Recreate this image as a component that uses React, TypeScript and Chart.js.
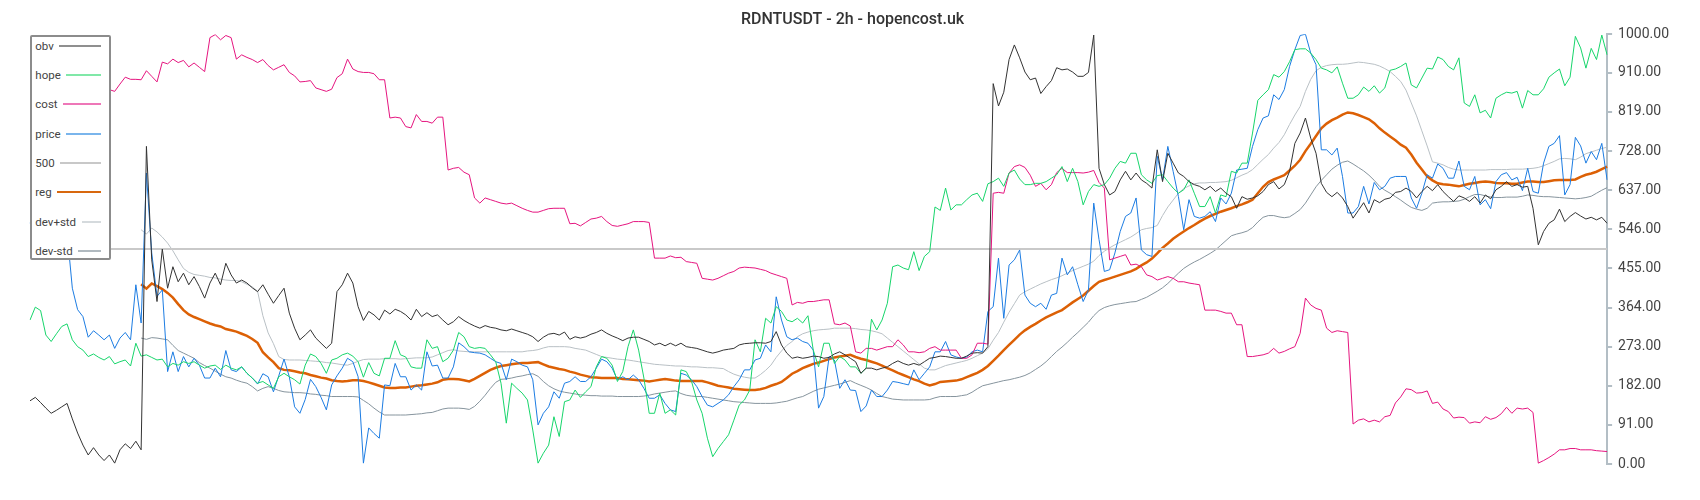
import React, { useEffect, useRef } from 'react';
import { Chart, registerables } from 'chart.js';

Chart.register(...registerables);

const TITLE = 'RDNTUSDT - 2h - hopencost.uk';
const POINT_COUNT = 299;
const categories = Array.from({ length: POINT_COUNT }, (_, i) => `t${i + 1}`);
const yTicks = [0, 91, 182, 273, 364, 455, 546, 637, 728, 819, 910, 1000];
const LEVEL = 500;

const obv = [
  147, 155, 143, 130, 118, 125, 133, 141, 105, 72,
  44, 21, 38, 21, 8, 21, 2, 33, 47, 36,
  53, 33, 739, 475, 378, 500, 409, 459, 424, 444,
  417, 436, 413, 386, 421, 444, 417, 467, 440, 421,
  428, 421, 410, 401, 417, 395, 374, 392, 409, 351,
  316, 289, 300, 312, 293, 281, 269, 281, 401, 417,
  444, 421, 366, 334, 355, 347, 335, 358, 349, 360,
  355, 347, 335, 360, 343, 352, 343, 347, 335, 324,
  331, 343, 334, 327, 321, 316, 322, 318, 316, 312,
  310, 314, 310, 306, 302, 296, 285, 295, 302, 304,
  300, 307, 290, 296, 293, 296, 302, 306, 312, 304,
  298, 293, 287, 293, 295, 295, 290, 285, 277, 281,
  275, 281, 275, 281, 273, 271, 269, 265, 261, 258,
  261, 265, 267, 269, 277, 280, 281, 282, 282, 281,
  285, 308, 277, 258, 246, 249, 246, 248, 251, 250,
  246, 248, 256, 261, 254, 246, 238, 211, 223, 223,
  219, 223, 226, 234, 240, 234, 230, 234, 230, 238,
  246, 248, 251, 250, 248, 246, 246, 251, 258, 259,
  258, 273, 885, 833, 865, 941, 975, 945, 912, 894,
  898, 862, 878, 892, 922, 917, 919, 912, 902, 902,
  911, 998, 688, 650, 626, 634, 661, 681, 661, 677,
  661, 653, 642, 731, 657, 723, 700, 677, 669, 657,
  650, 646, 638, 646, 634, 642, 630, 622, 595, 622,
  616, 619, 624, 634, 650, 657, 640, 650, 681, 746,
  770, 805, 758, 723, 653, 632, 622, 632, 619, 599,
  572, 590, 608, 584, 615, 608, 616, 619, 632, 634,
  642, 634, 619, 634, 646, 636, 650, 634, 622, 611,
  624, 619, 611, 622, 607, 626, 617, 638, 646, 657,
  646, 650, 644, 646, 595, 510, 541, 560, 568, 593,
  564, 576, 585, 577, 570, 574, 568, 574, 560,
];

const hope = [
  335, 365, 357, 300, 285, 303, 320, 326, 289, 273,
  265, 250, 256, 248, 242, 250, 233, 238, 242, 228,
  281, 251, 254, 248, 242, 244, 226, 234, 230, 238,
  234, 238, 230, 223, 228, 230, 220, 230, 223, 219,
  226, 211, 200, 188, 192, 184, 176, 203, 211, 203,
  196, 186, 230, 256, 250, 234, 211, 242, 246, 254,
  258, 251, 238, 202, 236, 211, 205, 246, 246, 287,
  254, 249, 226, 223, 223, 289, 269, 273, 238, 246,
  265, 306, 296, 273, 269, 271, 269, 254, 238, 188,
  95, 188, 176, 165, 149, 79, 2, 25, 44, 110,
  64, 145, 149, 172, 155, 168, 180, 226, 250, 246,
  230, 192, 215, 273, 312, 265, 200, 118, 118, 165,
  118, 126, 114, 219, 215, 192, 149, 118, 60, 17,
  36, 52, 68, 102, 137, 149, 172, 289, 261, 339,
  328, 366, 355, 335, 331, 339, 328, 345, 265, 226,
  281, 281, 234, 250, 242, 226, 226, 211, 223, 337,
  312, 335, 374, 459, 463, 456, 452, 494, 450, 483,
  494, 598, 590, 642, 591, 603, 603, 615, 626, 630,
  611, 652, 657, 665, 646, 677, 684, 663, 650, 650,
  653, 653, 657, 665, 673, 692, 657, 688, 657, 603,
  634, 650, 646, 650, 665, 688, 704, 700, 723, 723,
  673, 661, 653, 671, 673, 657, 642, 630, 638, 661,
  630, 599, 599, 622, 584, 626, 622, 681, 677, 700,
  700, 770, 846, 859, 871, 906, 900, 913, 936, 964,
  966, 966, 956, 941, 921, 917, 910, 924, 886, 851,
  851, 859, 877, 867, 880, 863, 875, 916, 919, 925,
  933, 882, 875, 898, 921, 919, 947, 941, 925, 917,
  945, 840, 832, 859, 817, 823, 805, 851, 859, 865,
  863, 867, 828, 869, 859, 859, 873, 900, 910, 919,
  880, 900, 995, 968, 921, 967, 941, 998, 952,
];

const cost = [
  880, 870, 890, 900, 885, 870, 880, 895, 890, 875,
  880, 870, 865, 875, 870, 871, 867, 884, 900, 895,
  895, 894, 915, 902, 889, 935, 931, 942, 934, 939,
  924, 933, 923, 913, 992, 999, 987, 997, 992, 942,
  952, 946, 941, 934, 941, 927, 917, 923, 929, 911,
  903, 889, 890, 892, 875, 871, 867, 872, 899, 908,
  942, 919, 913, 911, 911, 908, 894, 894, 805, 807,
  805, 785, 782, 813, 797, 797, 793, 807, 807, 684,
  688, 690, 679, 673, 619, 607, 619, 615, 611, 607,
  605, 607, 601, 595, 590, 586, 586, 590, 594, 595,
  595, 595, 559, 560, 554, 562, 570, 572, 576, 564,
  555, 553, 556, 559, 564, 564, 564, 562, 479, 479,
  479, 484, 480, 481, 471, 469, 467, 432, 430, 428,
  432, 438, 444, 448, 456, 458, 457, 456, 453, 450,
  444, 440, 436, 432, 370, 376, 374, 378, 378, 380,
  382, 382, 326, 324, 328, 321, 261, 258, 269, 269,
  265, 269, 273, 273, 289, 277, 261, 261, 259, 261,
  269, 273, 265, 265, 265, 265, 246, 246, 254, 281,
  281, 279, 630, 632, 630, 677, 692, 696, 690, 672,
  646, 653, 638, 650, 678, 688, 678, 678, 678, 677,
  679, 683, 655, 642, 475, 479, 483, 487, 463, 465,
  459, 440, 436, 428, 432, 436, 432, 424, 424, 421,
  419, 417, 358, 358, 358, 355, 351, 351, 324, 324,
  250, 250, 252, 254, 258, 269, 258, 262, 268, 273,
  304, 386, 370, 362, 358, 316, 306, 310, 308, 306,
  93, 102, 105, 98, 102, 98, 110, 113, 142, 156,
  175, 173, 165, 166, 170, 141, 144, 128, 122, 107,
  109, 108, 95, 98, 96, 110, 104, 108, 117, 132,
  118, 130, 128, 130, 120, 2, 8, 15, 23, 33,
  33, 36, 36, 33, 33, 33, 31, 30, 29,
];

const price = [
  560, 590, 610, 600, 620, 580, 570, 540, 409, 359,
  343, 295, 310, 300, 289, 300, 269, 293, 306, 289,
  417, 328, 677, 491, 390, 405, 215, 261, 215, 250,
  226, 246, 230, 200, 200, 223, 203, 264, 219, 215,
  226, 211, 200, 186, 210, 203, 168, 205, 244, 203,
  133, 118, 150, 197, 180, 155, 126, 184, 205, 223,
  246, 238, 203, 2, 84, 71, 60, 184, 182, 234,
  203, 203, 172, 184, 172, 261, 228, 230, 200, 200,
  226, 282, 273, 261, 259, 258, 254, 246, 238, 234,
  196, 244, 238, 230, 226, 196, 91, 118, 133, 168,
  153, 188, 192, 203, 192, 192, 203, 223, 244, 238,
  223, 196, 203, 196, 207, 196, 176, 153, 153, 161,
  141, 126, 122, 211, 207, 196, 180, 157, 137, 133,
  141, 149, 161, 180, 196, 219, 219, 242, 246, 277,
  261, 389, 335, 296, 289, 293, 285, 281, 265, 130,
  157, 250, 242, 176, 196, 172, 171, 122, 135, 172,
  157, 157, 172, 192, 190, 187, 184, 219, 196, 211,
  226, 261, 261, 285, 254, 249, 246, 249, 261, 265,
  261, 355, 366, 479, 339, 463, 475, 498, 393, 374,
  366, 374, 360, 393, 397, 479, 440, 459, 417, 378,
  405, 607, 522, 448, 452, 491, 541, 576, 584, 619,
  498, 487, 483, 716, 661, 739, 681, 622, 545, 615,
  576, 572, 576, 587, 564, 619, 605, 630, 684, 686,
  688, 739, 778, 805, 810, 859, 848, 871, 925, 964,
  997, 1000, 956, 929, 731, 731, 719, 735, 669, 584,
  584, 599, 646, 605, 655, 638, 646, 665, 669, 669,
  669, 619, 595, 630, 673, 665, 698, 688, 665, 665,
  705, 646, 638, 669, 603, 615, 594, 657, 673, 678,
  661, 667, 636, 688, 634, 630, 700, 739, 746, 764,
  626, 650, 760, 740, 700, 727, 708, 746, 661,
];

const reg = [
  null, null, null, null, null, null, null, null, null, null,
  null, null, null, null, null, null, null, null, null, null,
  null,
  418, 408, 420, 414, 407, 398, 387, 372, 358,
  348, 342, 337, 332, 327, 323, 320, 314, 311, 308,
  303, 298, 291, 282, 260, 248, 237, 223, 219, 218,
  216, 213, 211, 207, 204, 201, 199, 195, 193, 192,
  193, 195, 195, 193, 190, 186, 182, 178, 177, 177,
  178, 178, 180, 182, 183, 185, 187, 190, 196, 198,
  198, 197, 195, 192, 198, 205, 212, 219, 224, 228,
  230, 232, 234, 235, 235, 236, 237, 232, 227, 224,
  221, 219, 215, 212, 208, 205, 202, 201, 200, 200,
  200, 200, 198, 197, 196, 195, 194, 192, 194, 196,
  198, 196, 194, 193, 193, 193, 193, 193, 190, 186,
  182, 180, 178, 175, 174, 173, 172, 172, 174, 177,
  182, 186, 191, 200, 210, 216, 223, 228, 233, 236,
  240, 244, 248, 250, 252, 254,
  249, 245, 242,
  238, 234, 229, 223, 218, 212, 207, 202, 197, 193,
  187, 183, 186, 191, 192, 193, 194, 197, 202, 207,
  212, 219, 228, 240, 252, 265, 277, 289, 301, 311,
  319, 326, 334, 341, 347, 353, 358, 367, 376, 384,
  392, 403, 414, 424, 428, 432, 436, 440, 444, 448,
  454, 462, 469, 478, 490, 503, 513, 524, 533, 541,
  549, 556, 564, 571, 577, 582, 587, 591, 595, 600,
  604, 609, 615, 630, 645, 656, 662, 667, 672, 683,
  694, 708, 728, 745, 763, 781, 792, 800, 806, 813,
  818, 816, 812, 807, 802, 793, 781, 771, 762, 753,
  743, 736, 720, 701, 685, 669, 660, 653, 651, 650,
  648, 646, 649, 652, 654, 656, 657, 656, 654, 653,
  653, 652, 652, 655, 657, 657, 656, 656, 658, 660,
  661, 661, 661, 662, 668, 673, 676, 680, 686, 692,
];

const devPlusStd = [
  null, null, null, null, null, null, null, null, null, null,
  null, null, null, null, null, null, null, null, null, null,
  null,
  545, 535, 549, 540, 528, 514, 496, 475, 455,
  446, 441, 439, 437, 434, 433, 430, 428, 427, 427,
  424, 418, 412, 402, 345, 305, 280, 250, 243, 242,
  242, 242, 241, 240, 239, 238, 236, 235, 233, 231,
  230, 234, 239, 243, 244, 244, 244, 245, 245, 245,
  244, 245, 246, 247, 247, 247, 249, 254, 259, 264,
  266, 263, 262, 261, 261, 261, 261, 261, 261, 261,
  261, 261, 261, 261, 263, 264, 266, 270, 273, 273,
  273, 273, 272, 269, 267, 265, 260, 255, 250, 248,
  246, 244, 243, 242, 240, 238, 236, 234, 232, 231,
  230, 229, 228, 228, 227, 226, 226, 225, 224, 224,
  223, 222, 215, 209, 205, 202, 200, 200, 208, 218,
  230, 248, 263, 276, 285, 296, 303, 307, 310, 312,
  313, 314, 316, 316, 316, 316,
  315, 313, 312,
  310, 307, 303, 293, 283, 273, 263, 253, 243, 233,
  223, 219, 219, 224, 229, 232, 235, 238, 241, 246,
  252, 258, 268, 288, 306, 330, 353, 373, 393, 401,
  407, 413, 419, 424, 429, 433, 438, 444, 450, 455,
  460, 465, 472, 485, 495, 503, 510, 516, 522, 528,
  536, 545, 548, 550, 555, 578, 598, 614, 630, 641,
  647, 652, 654, 654, 655, 655, 656, 657, 660, 666,
  672, 677, 685, 697, 709, 720, 735, 748, 766, 790,
  812, 832, 867, 895, 915, 923, 927, 929, 930, 930,
  931, 933, 935, 934, 932, 930, 926, 920, 913, 902,
  890, 870, 840, 810, 775, 740, 703, 700, 696, 690,
  686, 684, 684, 684, 684, 684, 684, 685, 685, 685,
  685, 686, 686, 686, 687, 688, 690, 694, 699, 704,
  710, 711, 710, 708, 714, 722, 726, 730, 734, 737,
];

const devMinusStd = [
  null, null, null, null, null, null, null, null, null, null,
  null, null, null, null, null, null, null, null, null, null,
  null,
  293, 290, 294, 293, 291, 289, 276, 264, 258,
  252, 246, 236, 229, 223, 216, 209, 203, 200, 195,
  191, 188, 180, 170, 176, 180, 176, 171, 168, 167,
  166, 166, 165, 163, 162, 160, 159, 157, 157, 157,
  157, 157, 156, 148, 140, 130, 121, 114, 114, 114,
  114, 114, 115, 116, 117, 119, 120, 124, 128, 130,
  130, 130, 129, 127, 134, 146, 160, 176, 190, 197,
  198, 200, 203, 205, 208, 210, 204, 192, 182, 175,
  170, 167, 165, 163, 161, 160, 159, 159, 158, 158,
  158, 157, 157, 157, 157, 157, 158, 160, 163, 165,
  167, 169, 170, 164, 160, 158, 157, 157, 155, 153,
  151, 149, 147, 145, 144, 143, 142, 141, 141, 141,
  141, 142, 144, 146, 150, 154, 157, 163, 169, 174,
  177, 180, 183, 186, 190, 194,
  188, 183, 178,
  172, 164, 157, 154, 151, 150, 149, 149, 149, 149,
  149, 150, 154, 157, 157, 157, 157, 159, 161, 167,
  175, 182, 185, 188, 191, 194, 196, 199, 202, 206,
  212, 220, 228, 238, 250, 262, 272, 283, 295, 306,
  318, 330, 345, 357, 364, 368, 371, 373, 375, 377,
  378, 383, 388, 395, 402, 410, 420, 432, 444, 455,
  463, 470, 476, 483, 490, 498, 509, 520, 531, 535,
  538, 542, 550, 563, 574, 578, 578, 575, 573, 575,
  583, 592, 607, 626, 645, 660, 673, 686, 695, 702,
  705, 698, 690, 682, 672, 660, 646, 637, 630, 622,
  614, 605, 597, 593, 590, 595, 607, 609, 610, 610,
  611, 612, 616, 622, 627, 627, 624, 621, 620, 620,
  621, 621, 621, 623, 626, 625, 623, 622, 622, 621,
  620, 619, 618, 617, 618, 620, 623, 630, 637, 643,
];

const level500 = categories.map(() => LEVEL);

const seriesNames = ['obv', 'hope', 'cost', 'price', '500', 'reg', 'dev+std', 'dev-std'];
const seriesData = [obv, hope, cost, price, level500, reg, devPlusStd, devMinusStd];
const lineColors = ['#333333', '#17d56b', '#e5157f', '#1c7ce2', '#c9c9c9', '#dc6005', '#b9c0c5', '#86949d'];
const lineWidths = [1, 1, 1, 1, 2, 2.5, 1, 1];
const swatchColors = ['#8f8f8f', '#80e8a8', '#ee77b8', '#7ab5ec', '#c8c8c8', '#d8680e', '#d5dadd', '#b0b9bf'];

export default function App() {
  const canvasRef = useRef<HTMLCanvasElement | null>(null);

  useEffect(() => {
    if (!canvasRef.current) return;
    const chart = new Chart(canvasRef.current, {
      type: 'line',
      data: {
        labels: categories,
        datasets: seriesNames.map((name, k) => ({
          label: name,
          data: seriesData[k] as (number | null)[],
          borderColor: lineColors[k],
          backgroundColor: lineColors[k],
          borderWidth: lineWidths[k],
          pointRadius: 0,
          tension: 0,
          fill: false,
        })),
      },
      options: {
        animation: false,
        responsive: true,
        maintainAspectRatio: false,
        layout: { padding: { left: 22, right: 17, top: 0, bottom: 28 } },
        plugins: {
          legend: { display: false },
          tooltip: { enabled: false },
          title: {
            display: true,
            text: TITLE,
            color: '#333333',
            font: { family: 'Roboto', size: 16, weight: '500' },
            padding: { top: 2, bottom: 5 },
          },
        },
        scales: {
          x: { type: 'category', display: false },
          y: {
            position: 'right',
            min: 0,
            max: 1000,
            afterBuildTicks: (axis: any) => {
              axis.ticks = yTicks.map((v) => ({ value: v }));
            },
            border: { display: true, color: '#b3bec5', width: 2 },
            grid: {
              drawOnChartArea: false,
              drawTicks: true,
              tickLength: 5,
              color: '#b3bec5',
              lineWidth: 2,
            },
            ticks: {
              padding: 6,
              color: '#444444',
              autoSkip: false,
              font: { family: 'Roboto', size: 14 },
              callback: (v: any) => Number(v).toFixed(2),
            },
          },
        },
      },
    });
    return () => chart.destroy();
  }, []);

  return (
    <div style={{ position: 'relative', width: 1684, height: 484, fontFamily: 'Roboto, sans-serif' }}>
      <canvas ref={canvasRef} />
      <div
        style={{
          position: 'absolute',
          left: 22,
          top: 27,
          width: 81,
          height: 225,
          boxSizing: 'border-box',
          border: '2px solid #8c8c8c',
          borderRadius: 2,
          background: '#ffffff',
        }}
      >
        {seriesNames.map((name, k) => (
          <div
            key={name}
            style={{
              position: 'absolute',
              left: 3.3,
              right: 7.7,
              top: 1.7 + 29.33 * k,
              height: 14,
              display: 'flex',
              alignItems: 'center',
            }}
          >
            <span style={{ fontSize: 11.5, lineHeight: '14px', color: '#444444', whiteSpace: 'nowrap' }}>{name}</span>
            <span style={{ flex: 1, height: 2, marginLeft: 5.5, background: swatchColors[k] }} />
          </div>
        ))}
      </div>
    </div>
  );
}
